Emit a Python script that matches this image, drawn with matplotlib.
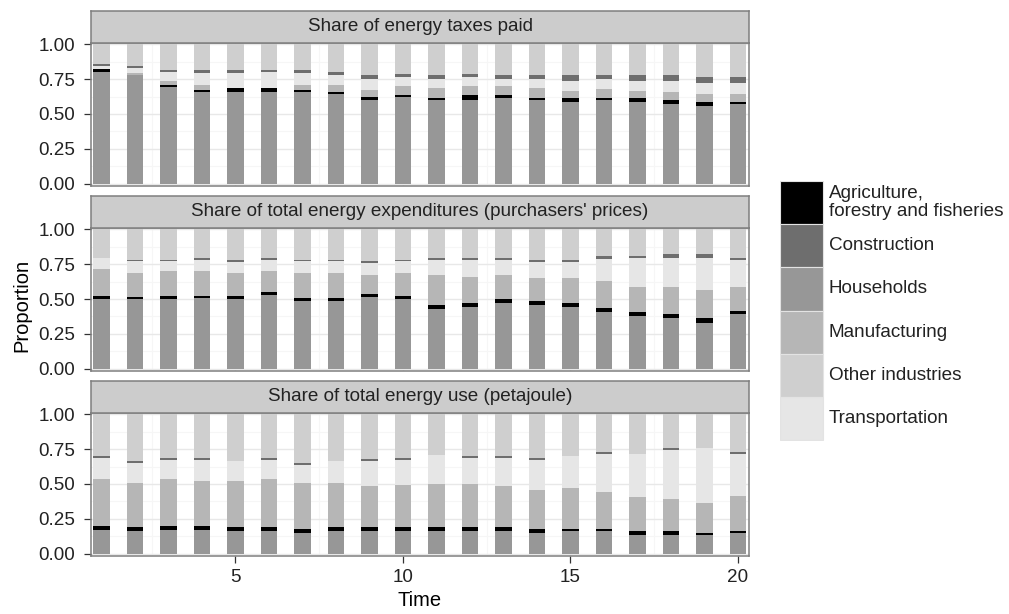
# stacked shares by sector, three facets (ggplot-style grey palette)

import numpy as np
import matplotlib.pyplot as plt
from matplotlib.patches import Rectangle

plt.rcParams['font.family'] = ['Liberation Sans', 'DejaVu Sans']

time = np.arange(1, 21)

sector_labels = ['Agriculture,\nforestry and fisheries', 'Construction', 'Households',
                 'Manufacturing', 'Other industries', 'Transportation']
sector_colors = ['#000000', '#6e6e6e', '#979797', '#b6b6b6', '#cfcfcf', '#e6e6e6']
panel_titles = ['Share of energy taxes paid',
                "Share of total energy expenditures (purchasers' prices)",
                'Share of total energy use (petajoule)']

# Share of energy taxes paid
tax_agri = [.019, .002, .019, .014, .029, .029, .014, .015, .019, .016,
            .016, .033, .016, .016, .031, .016, .026, .029, .029, .017]
tax_constr = [.012, .014, .014, .023, .023, .014, .023, .023, .024, .023,
              .024, .023, .024, .024, .038, .024, .038, .038, .038, .038]
tax_house = [.800, .779, .690, .657, .655, .655, .657, .640, .600, .620,
             .600, .600, .617, .600, .586, .600, .586, .571, .559, .571]
tax_manuf = [.000, .010, .024, .036, .005, .005, .036, .052, .052, .062,
             .067, .065, .065, .067, .050, .062, .055, .055, .052, .052]
tax_other = [.143, .157, .186, .186, .186, .186, .186, .198, .224, .210,
             .224, .210, .224, .224, .224, .224, .224, .224, .238, .238]
tax_trans = [.026, .038, .067, .084, .102, .110, .084, .072, .081, .069,
             .069, .069, .054, .069, .071, .074, .071, .083, .084, .084]

# Share of total energy expenditures
exp_agri = [.023, .012, .023, .012, .023, .026, .026, .026, .024, .023,
            .026, .024, .029, .026, .024, .028, .026, .026, .038, .027]
exp_constr = [.000, .010, .010, .012, .010, .012, .010, .010, .009, .010,
              .012, .012, .012, .012, .012, .024, .012, .024, .024, .012]
exp_house = [.498, .500, .498, .509, .498, .526, .483, .483, .512, .498,
             .431, .445, .469, .457, .445, .405, .379, .364, .326, .390]
exp_manuf = [.193, .176, .177, .177, .165, .146, .179, .179, .135, .167,
             .214, .186, .173, .165, .179, .198, .183, .198, .200, .171]
exp_other = [.209, .221, .221, .209, .221, .209, .221, .221, .231, .221,
             .209, .209, .209, .221, .221, .193, .193, .181, .181, .209]
exp_trans = [.077, .081, .071, .081, .081, .081, .081, .081, .089, .081,
             .108, .124, .108, .119, .119, .152, .207, .207, .231, .191]

# Share of total energy use
use_agri = [.028, .029, .028, .028, .029, .029, .029, .029, .029, .029,
            .029, .029, .029, .029, .015, .015, .028, .028, .014, .014]
use_constr = [.012, .014, .014, .014, .000, .014, .015, .000, .014, .014,
              .000, .012, .012, .012, .000, .012, .000, .015, .000, .012]
use_house = [.173, .160, .173, .173, .160, .160, .146, .160, .160, .160,
             .160, .160, .160, .146, .160, .160, .132, .132, .132, .146]
use_manuf = [.336, .320, .336, .324, .336, .348, .334, .320, .295, .307,
             .312, .312, .295, .283, .297, .266, .245, .231, .216, .257]
use_other = [.300, .336, .312, .312, .336, .312, .350, .336, .324, .312,
             .295, .300, .300, .314, .300, .271, .283, .242, .242, .271]
use_trans = [.151, .141, .137, .149, .139, .137, .126, .155, .178, .178,
             .204, .187, .204, .216, .228, .276, .312, .352, .396, .300]

panels = [
    [tax_agri, tax_constr, tax_house, tax_manuf, tax_other, tax_trans],
    [exp_agri, exp_constr, exp_house, exp_manuf, exp_other, exp_trans],
    [use_agri, use_constr, use_house, use_manuf, use_other, use_trans],
]
# bottom to top: Households, Agriculture, Manufacturing, Transportation, Construction, Other
stack_order = [2, 0, 3, 5, 1, 4]

W, H = 1009, 614
fig = plt.figure(figsize=(W / 100, H / 100), dpi=100)


def box(left, top, right, bottom):
    return [left / W, 1 - bottom / H, (right - left) / W, (bottom - top) / H]


ax_left, ax_right = 91, 749
ax_tops = [42.5, 227.5, 412.5]
ax_h = 143
strip_h = 31.5
border = '#7f7f7f'
txt = '#222222'
small = 13.6

for i, (values, title) in enumerate(zip(panels, panel_titles)):
    top = ax_tops[i]
    ax = fig.add_axes(box(ax_left, top, ax_right, top + ax_h))
    bottom = np.zeros(len(time))
    for k in stack_order:
        v = np.array(values[k])
        ax.bar(time, v, width=0.5, bottom=bottom, color=sector_colors[k],
               linewidth=0, zorder=2)
        bottom += v

    ax.set_xlim(0.69, 20.33)
    ax.set_ylim(-0.012, 1.012)
    ax.set_yticks([0, 0.25, 0.5, 0.75, 1.0])
    ax.set_yticklabels(['0.00', '0.25', '0.50', '0.75', '1.00'])
    ax.set_yticks([0.125, 0.375, 0.625, 0.875], minor=True)
    ax.set_xticks([5, 10, 15, 20])
    ax.set_xticks([2.5, 7.5, 12.5, 17.5], minor=True)
    ax.grid(True, which='major', color='#e8e8e8', linewidth=1.0, zorder=0)
    ax.grid(True, which='minor', color='#f6f6f6', linewidth=0.8, zorder=0)
    ax.set_axisbelow(True)
    ax.tick_params(which='minor', length=0)
    ax.tick_params(axis='y', length=4.8, width=0.9, color='#333333', pad=6.5,
                   labelsize=small, labelcolor=txt)
    if i < 2:
        ax.tick_params(axis='x', length=0, labelbottom=False)
    else:
        ax.tick_params(axis='x', length=4.8, width=0.9, color='#333333', pad=5,
                       labelsize=small, labelcolor=txt)
    for s in ax.spines.values():
        s.set_color(border)
        s.set_linewidth(1.1)

    # facet strip
    sax = fig.add_axes(box(ax_left, top - strip_h, ax_right, top))
    sax.set_facecolor('#cccccc')
    sax.set_xticks([])
    sax.set_yticks([])
    for s in sax.spines.values():
        s.set_color(border)
        s.set_linewidth(1.1)
    sax.text(0.5, 0.5, title, ha='center', va='center', fontsize=small, color=txt,
             transform=sax.transAxes)

fig.text(22 / W, 1 - 305 / H, 'Proportion', rotation=90, ha='center', va='center',
         fontsize=14.5, color='black')
fig.text((ax_left + ax_right) / 2 / W, 1 - 600 / H, 'Time', ha='center', va='center',
         fontsize=14.5, color='black')

# legend
lax = fig.add_axes(box(780, 180.7, 1009, 440.7))
lax.set_xlim(780, 1009)
lax.set_ylim(440.7, 180.7)
lax.axis('off')
key_h = 43.3
for j, (lab, col) in enumerate(zip(sector_labels, sector_colors)):
    y0 = 180.7 + j * key_h
    lax.add_patch(Rectangle((780, y0), 43, key_h, facecolor=col,
                            edgecolor='#e3e3e3', linewidth=0.8))
    lax.text(829, y0 + key_h / 2, lab, ha='left', va='center', fontsize=small,
             color=txt, linespacing=1.1)

plt.savefig('out.png', dpi=100)
